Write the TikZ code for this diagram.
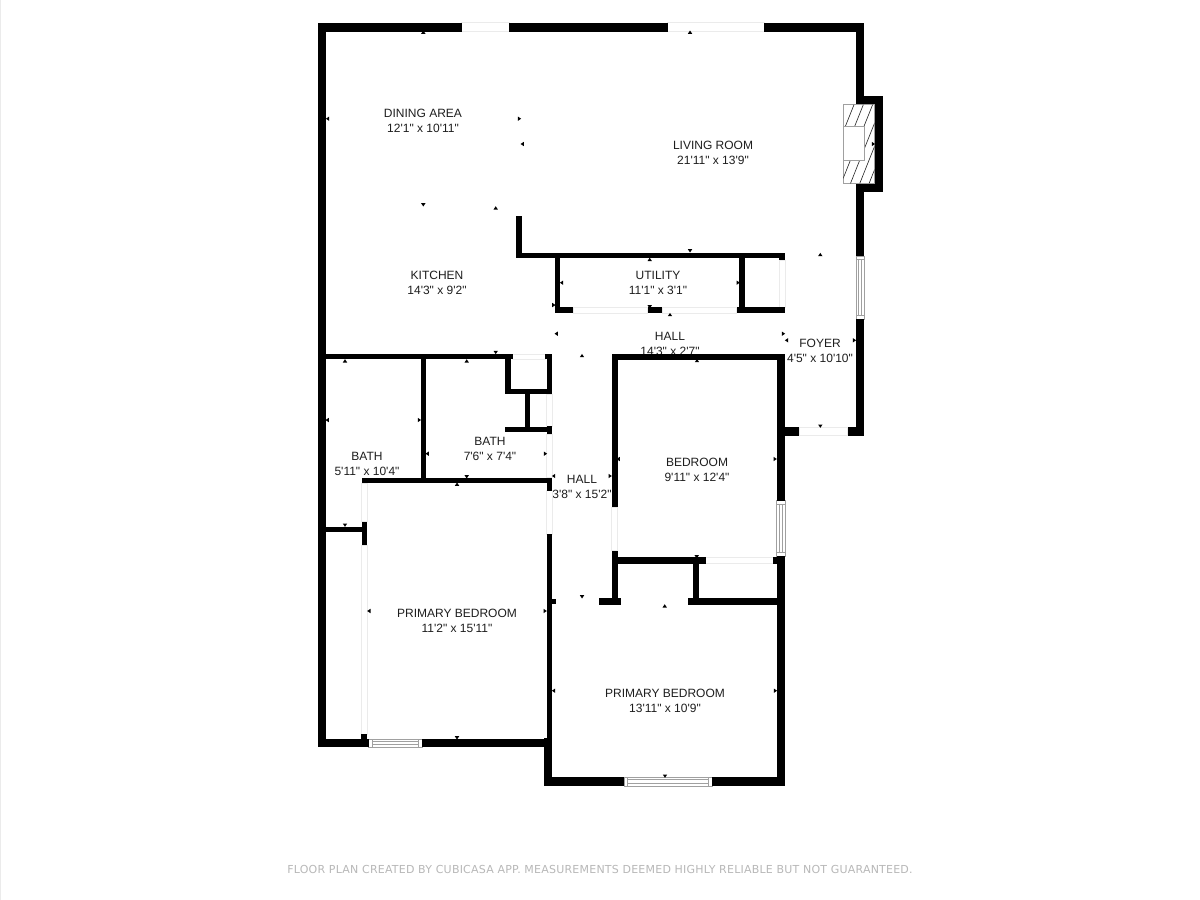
\documentclass[tikz,border=0pt]{standalone}
\usepackage{fontspec}
\newfontfamily\lab{Liberation Sans}
\newfontfamily\foot[LetterSpace=2]{DejaVu Sans}
\definecolor{inkc}{HTML}{1E1E1E}
\definecolor{openc}{HTML}{EBEBEB}
\definecolor{winc}{HTML}{A0A0A0}
\definecolor{footc}{HTML}{B8B8B8}
\newcommand{\wallbox}[4]{\fill[black] (#1,#2) rectangle (#3,#4);}
\newcommand{\opening}[4]{\draw[openc,line width=0.6pt,fill=white] (#1,#2) rectangle (#3,#4);}
\newcommand{\winh}[4]{\draw[winc,line width=0.7pt,fill=white] (#1,#2) rectangle (#3,#4);
  \draw[winc,line width=0.7pt] ({#1+3.5},{#2}) -- ({#1+3.5},{#4}) ({#3-3.5},{#2}) -- ({#3-3.5},{#4}) ({#1+3.5},{#2+2.2}) -- ({#3-3.5},{#2+2.2}) ({#1+3.5},{#4-2.2}) -- ({#3-3.5},{#4-2.2});}
\newcommand{\winv}[4]{\draw[winc,line width=0.7pt,fill=white] (#1,#2) rectangle (#3,#4);
  \draw[winc,line width=0.7pt] ({#1},{#2+3.5}) -- ({#3},{#2+3.5}) ({#1},{#4-3.5}) -- ({#3},{#4-3.5}) ({#1+2.2},{#2+3.5}) -- ({#1+2.2},{#4-3.5}) ({#3-2.2},{#2+3.5}) -- ({#3-2.2},{#4-3.5});}
\newcommand{\mku}[2]{\fill[black] ({#1-2.2},{#2+1.5}) -- ({#1+2.2},{#2+1.5}) -- (#1,{#2-1.8}) -- cycle;}
\newcommand{\mkd}[2]{\fill[black] ({#1-2.2},{#2-1.5}) -- ({#1+2.2},{#2-1.5}) -- (#1,{#2+1.8}) -- cycle;}
\newcommand{\mkl}[2]{\fill[black] ({#1+1.5},{#2-2.2}) -- ({#1+1.5},{#2+2.2}) -- ({#1-1.8},#2) -- cycle;}
\newcommand{\mkr}[2]{\fill[black] ({#1-1.5},{#2-2.2}) -- ({#1-1.5},{#2+2.2}) -- ({#1+1.8},#2) -- cycle;}
\tikzset{roomlabel/.style={text=inkc,font=\lab\fontsize{12}{15}\selectfont,align=center,inner sep=0pt,anchor=center}}
\begin{document}
\begin{tikzpicture}[x=1pt,y=-1pt]
\useasboundingbox (0,0) rectangle (1200,900);
\fill[white] (0,0) rectangle (1200,900);
\draw[openc,line width=0.8pt] (0.4,0) -- (0.4,900);
% labels
\node[roomlabel] (dining) at (423,120.5) {DINING AREA\\12'1" x 10'11"};
\node[roomlabel] (living) at (713,153) {LIVING ROOM\\21'11" x 13'9"};
\node[roomlabel] (kitchen) at (437,283) {KITCHEN\\14'3" x 9'2"};
\node[roomlabel] (utility) at (658,282.5) {UTILITY\\11'1" x 3'1"};
\node[roomlabel] (hallA) at (670,344) {HALL\\14'3" x 2'7"};
\node[roomlabel] (foyer) at (820,351) {FOYER\\4'5" x 10'10"};
\node[roomlabel] (bathA) at (367,463.5) {BATH\\5'11" x 10'4"};
\node[roomlabel] (bathB) at (490,449) {BATH\\7'6" x 7'4"};
\node[roomlabel] (hallB) at (582,486.5) {HALL\\3'8" x 15'2"};
\node[roomlabel] (bedroom) at (697,469.5) {BEDROOM\\9'11" x 12'4"};
\node[roomlabel] (primA) at (457,621) {PRIMARY BEDROOM\\11'2" x 15'11"};
\node[roomlabel] (primB) at (665,701) {PRIMARY BEDROOM\\13'11" x 10'9"};
\node[text=footc,font=\foot\fontsize{11}{13}\selectfont,inner sep=0pt] (credit) at (600,869.5) {FLOOR PLAN CREATED BY CUBICASA APP. MEASUREMENTS DEEMED HIGHLY RELIABLE BUT NOT GUARANTEED.};
% openings
\opening{461.7}{22.7}{509.3}{31.7}
\opening{667.7}{22.7}{764}{31.7}
\opening{512.7}{354}{545}{359.3}
\opening{573.3}{307.3}{647.7}{313.3}
\opening{662.3}{307.3}{736.7}{313.3}
\opening{779.3}{260}{785}{307.3}
\opening{799.3}{427.3}{847.7}{435.7}
\opening{705.7}{557.3}{773.3}{563.7}
\opening{611.7}{507.3}{617.7}{550.7}
\opening{546.7}{394}{552.3}{426}
\opening{546.7}{434}{552.3}{477}
\opening{546.7}{490.7}{552.3}{534}
\opening{361.7}{483.3}{367.3}{521.7}
\opening{361.7}{545}{367.3}{734}
% windows
\winv{856}{256}{864}{319.3}
\winv{776.7}{500.7}{785}{556}
\winh{368.7}{739}{422}{747}
\winh{624}{777.3}{712}{786}
% outer walls
\wallbox{318}{22.7}{326}{747}
\wallbox{318}{22.7}{461.7}{31.7}
\wallbox{509.3}{22.7}{667.7}{31.7}
\wallbox{764}{22.7}{864.3}{31.7}
\wallbox{856}{22.7}{864.3}{104}
\wallbox{856}{96}{882.7}{104.7}
\wallbox{874.3}{96}{882.7}{191.7}
\wallbox{856}{183.3}{882.7}{191.7}
\wallbox{856}{183.3}{864.3}{256}
\wallbox{856}{319.3}{864.3}{435.7}
\wallbox{847.7}{427.3}{864.3}{435.7}
\wallbox{785}{427.3}{799.3}{435.7}
\wallbox{318}{739}{368.7}{747}
\wallbox{422}{739}{552.3}{747}
\wallbox{361}{734}{367.3}{740}
\wallbox{544}{738}{552.3}{786}
\wallbox{544}{777.3}{624}{786}
\wallbox{712}{777.3}{785}{786}
\wallbox{776.7}{556}{785}{786}
\wallbox{776.7}{354}{785}{500.7}
% kitchen and utility
\wallbox{515.7}{216}{521.7}{258.3}
\wallbox{515.7}{252.7}{785}{258.3}
\wallbox{554.7}{252.7}{560.3}{313.3}
\wallbox{739}{252.7}{745}{313.3}
\wallbox{779.3}{252.7}{785}{260}
\wallbox{779.3}{307.3}{785}{313.3}
\wallbox{554.7}{307.3}{573.3}{313.3}
\wallbox{647.7}{307.3}{662.3}{313.3}
\wallbox{736.7}{307.3}{785}{313.3}
% baths
\wallbox{326}{354}{512.7}{359.3}
\wallbox{545}{354}{552.3}{359.3}
\wallbox{505.3}{354}{511}{394}
\wallbox{505.3}{388.7}{552.3}{394}
\wallbox{546.7}{354}{552.3}{394}
\wallbox{525}{394}{530.3}{430}
\wallbox{505.3}{426.7}{552.3}{432}
\wallbox{546.7}{426}{552.3}{434}
\wallbox{421}{354}{426.3}{483}
\wallbox{361.7}{477.7}{552.3}{483.3}
\wallbox{546.7}{477.7}{552.3}{490.7}
\wallbox{326}{526.7}{365}{531.7}
\wallbox{361.7}{521.7}{367.3}{545}
\wallbox{546.7}{534}{552.3}{740}
\wallbox{547}{598.5}{556}{604}
% bedroom
\wallbox{611.7}{354}{785}{360}
\wallbox{611.7}{354}{617.7}{507.3}
\wallbox{611.7}{550.7}{617.7}{605}
\wallbox{599.3}{598.3}{621}{605}
\wallbox{611.7}{557.3}{705.7}{563.7}
\wallbox{773.3}{557.3}{785}{563.7}
\wallbox{693}{557.3}{699}{605}
\wallbox{688.3}{598.3}{785}{605}
% fireplace
\draw[winc,line width=0.7pt,fill=white] (843.3,104.7) rectangle (874.3,183.3);
\begin{scope}
\clip (843.3,104.7) rectangle (874.3,183.3);
\foreach \k in {0,...,6}{
  \draw[inkc,line width=0.6pt] ({854+\k*9.3},104.7) -- ({854+\k*9.3-31.4},183.3);
}
\end{scope}
\draw[winc,line width=0.7pt,fill=white] (843.3,126.7) rectangle (864.3,160.7);
% dimension markers
\mku{423.3}{32.3}\mkl{327.7}{118.7}\mkr{519.3}{118.7}\mkl{522.3}{144}\mkd{423.3}{204.7}\mku{495.7}{208}
\mku{690}{32.3}\mkr{873.3}{144}
\mkd{690}{250.7}\mku{649.7}{259.5}\mkl{561.7}{282.7}\mkr{738}{282.7}\mkr{553.7}{305}\mkd{649.7}{306.7}
\mku{670}{314.7}\mkl{556.3}{333.7}\mkr{783.3}{333.7}\mkl{786.7}{340.3}\mku{820.3}{254.7}\mkr{854.3}{340.3}
\mku{582}{355.7}\mku{697}{360.7}\mkd{820.3}{426}
\mku{345}{361}\mku{466.7}{361}\mkd{495.7}{352.3}\mkl{327.3}{420}\mkr{419.3}{420}
\mkl{427.3}{453.7}\mkr{545.3}{453.7}\mkd{466.7}{476.7}\mku{457}{484.3}\mkd{345}{525}\mkl{553.7}{476}
\mkr{610}{476}\mkl{618.3}{459}\mkr{775}{459}\mkd{696.7}{556.7}\mkd{582}{596.7}\mku{664.7}{606}\mkr{545}{611}
\mkl{369}{611}\mkl{553.7}{690.7}\mkr{775.3}{690.7}\mkd{457}{737.7}\mkd{665}{776}
\end{tikzpicture}
\end{document}
